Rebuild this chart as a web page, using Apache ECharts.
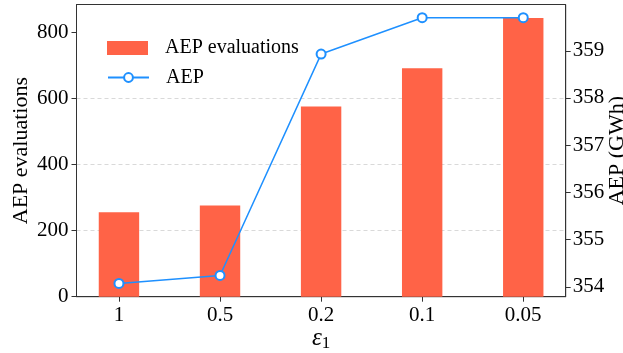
<!DOCTYPE html>
<html>
<head>
<meta charset="utf-8">
<script src="https://cdn.jsdelivr.net/npm/echarts@6/dist/echarts.min.js"></script>
<style>
  html, body { margin: 0; padding: 0; background: #fff; }
  #chart { width: 623px; height: 353px; }
</style>
</head>
<body>
<div id="chart"></div>
<script>
// Tolerance levels on the x axis
const categories = ['1', '0.5', '0.2', '0.1', '0.05'];
// Number of AEP evaluations per tolerance (bars, left axis)
const evaluations = [256, 276, 576, 692, 844];
// Resulting AEP in GWh (line, right axis)
const aep = [354.07, 354.24, 358.93, 359.70, 359.70];
// Tick values
const leftTicks = [0, 200, 400, 600, 800];
const rightTicks = [354, 355, 356, 357, 358, 359];
const xTicks = categories.map((_, i) => i);

const FONT = '"Liberation Serif", "Times New Roman", serif';
const AXIS_COLOR = '#333';

const chart = echarts.init(document.getElementById('chart'), null, { renderer: 'canvas' });

const legendText = { fontFamily: FONT, fontSize: 20, color: '#000', padding: [0, 0, 0, 12] };

chart.setOption({
  animation: false,
  backgroundColor: '#fff',
  textStyle: { fontFamily: FONT },
  grid: {
    left: 76.5, right: 57.3, top: 4.5, bottom: 56.3,
    outerBoundsMode: 'none',
    containLabel: false,
    show: true, borderColor: AXIS_COLOR, borderWidth: 1, backgroundColor: 'transparent'
  },
  legend: [
    {
      left: 107, top: 38, padding: 0,
      itemWidth: 41, itemHeight: 14,
      textStyle: legendText,
      data: [{ name: 'AEP evaluations', icon: 'rect' }]
    },
    {
      left: 107, top: 67.5, padding: 0,
      itemWidth: 41, itemHeight: 11,
      textStyle: legendText,
      data: ['AEP']
    }
  ],
  xAxis: {
    type: 'value',
    min: -0.42, max: 4.42,
    name: '{e|ε}{s|1}',
    nameLocation: 'middle',
    nameGap: 28,
    nameMoveOverlap: false,
    nameTextStyle: {
      rich: {
        e: { fontFamily: FONT, fontStyle: 'italic', fontSize: 25, color: '#000' },
        s: { fontFamily: FONT, fontSize: 17, color: '#000', padding: [10, 0, 0, 0] }
      }
    },
    axisLine: { onZero: false, lineStyle: { color: AXIS_COLOR } },
    axisTick: { show: true, length: 5, lineStyle: { color: AXIS_COLOR }, customValues: xTicks },
    axisLabel: {
      customValues: xTicks,
      fontFamily: FONT, fontSize: 21, color: '#000', margin: 8,
      formatter: v => categories[Math.round(v)]
    },
    splitLine: { show: false }
  },
  yAxis: [
    {
      type: 'value',
      min: 0, max: 885,
      position: 'left',
      name: 'AEP evaluations',
      nameLocation: 'middle',
      nameGap: 44,
      nameMoveOverlap: false,
      nameTextStyle: { fontFamily: FONT, fontSize: 22, color: '#000' },
      axisLine: { show: true, onZero: false, lineStyle: { color: AXIS_COLOR } },
      axisTick: { show: true, length: 5, lineStyle: { color: AXIS_COLOR }, customValues: leftTicks },
      axisLabel: { customValues: leftTicks, fontFamily: FONT, fontSize: 21, color: '#000', margin: 8 },
      splitLine: {
        show: true, showMinLine: false, showMaxLine: false,
        lineStyle: { color: '#d9d9d9', type: [4, 3], width: 1 }
      }
    },
    {
      type: 'value',
      min: 353.79, max: 359.98,
      position: 'right',
      name: 'AEP (GWh)',
      nameLocation: 'middle',
      nameGap: 41,
      nameRotate: 90,
      nameMoveOverlap: false,
      nameTextStyle: { fontFamily: FONT, fontSize: 22, color: '#000' },
      axisLine: { show: true, onZero: false, lineStyle: { color: AXIS_COLOR } },
      axisTick: { show: true, length: 5, lineStyle: { color: AXIS_COLOR }, customValues: rightTicks },
      axisLabel: { customValues: rightTicks, fontFamily: FONT, fontSize: 21, color: '#000', margin: 7 },
      splitLine: { show: false }
    }
  ],
  series: [
    {
      name: 'AEP evaluations',
      type: 'bar',
      yAxisIndex: 0,
      barWidth: 40.4,
      itemStyle: { color: '#FF6347' },
      data: evaluations.map((v, i) => [i, v])
    },
    {
      name: 'AEP',
      type: 'line',
      yAxisIndex: 1,
      z: 5,
      symbol: 'circle',
      symbolSize: 9,
      lineStyle: { color: '#1E90FF', width: 1.5 },
      itemStyle: { color: '#fff', borderColor: '#1E90FF', borderWidth: 2 },
      data: aep.map((v, i) => [i, v])
    }
  ]
});
</script>
</body>
</html>
